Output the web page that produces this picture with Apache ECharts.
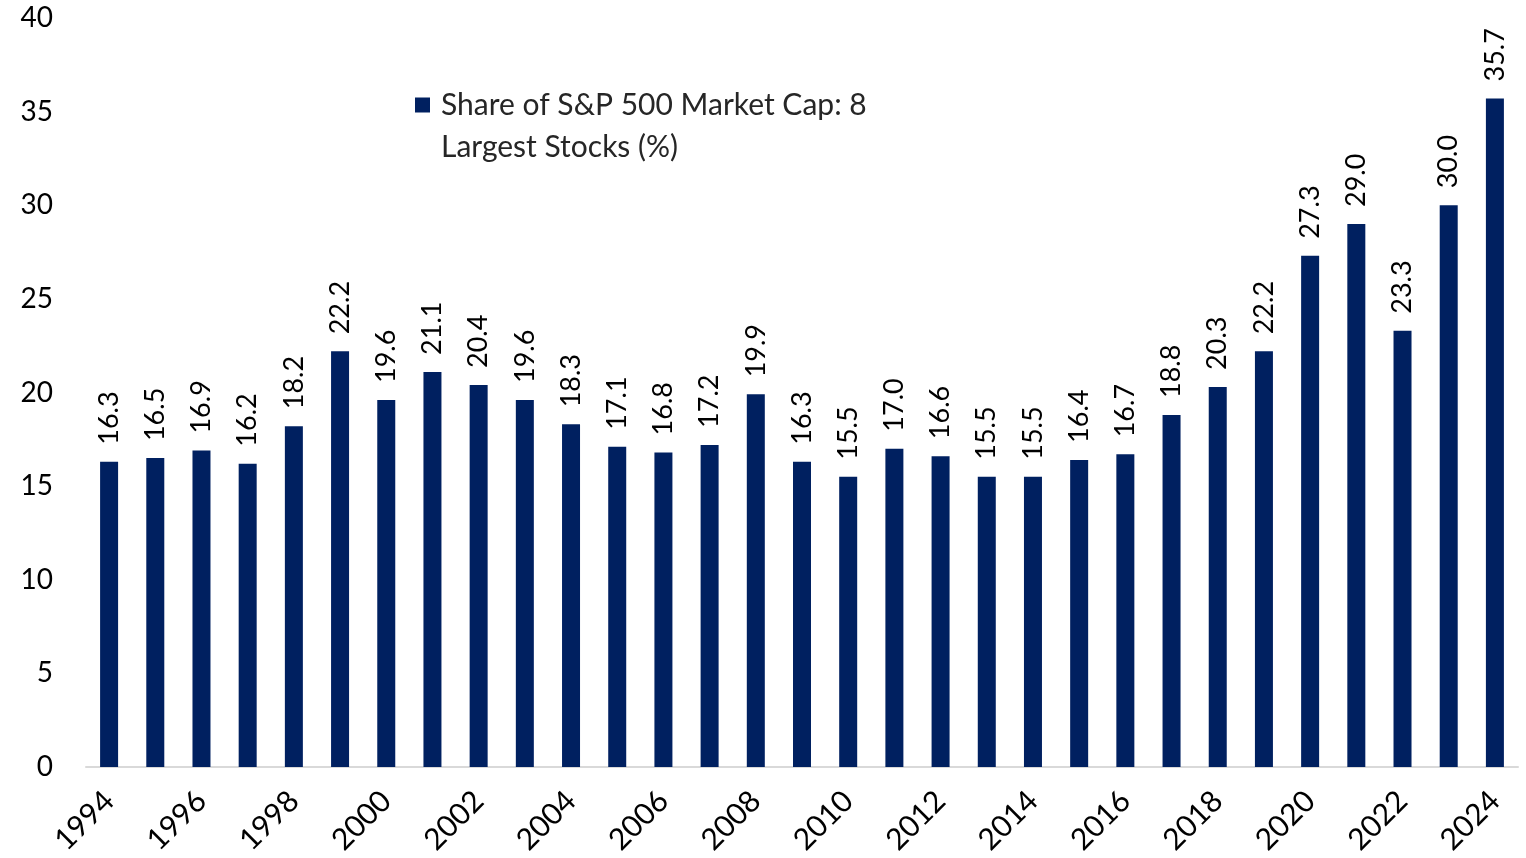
<!DOCTYPE html>
<html>
<head>
<meta charset="utf-8">
<script src="https://cdn.jsdelivr.net/npm/echarts@6/dist/echarts.min.js"></script>
<style>
  html, body { margin: 0; padding: 0; background: #fff; }
  #chart { width: 1526px; height: 858px; }
</style>
</head>
<body>
<div id="chart"></div>
<script>
// data
var years = ['1994', '1995', '1996', '1997', '1998', '1999', '2000', '2001', '2002', '2003',
  '2004', '2005', '2006', '2007', '2008', '2009', '2010', '2011', '2012', '2013',
  '2014', '2015', '2016', '2017', '2018', '2019', '2020', '2021', '2022', '2023', '2024'];
var share = [16.3, 16.5, 16.9, 16.2, 18.2, 22.2, 19.6, 21.1, 20.4, 19.6,
  18.3, 17.1, 16.8, 17.2, 19.9, 16.3, 15.5, 17.0, 16.6, 15.5,
  15.5, 16.4, 16.7, 18.8, 20.3, 22.2, 27.3, 29.0, 23.3, 30.0, 35.7];
var seriesName = 'Share of S&P 500 Market Cap: 8';
var seriesName2 = 'Largest Stocks (%)'; // legend text wraps onto a second line

var font = 'Lato, "Open Sans", sans-serif';
var chart = echarts.init(document.getElementById('chart'));

chart.setOption({
  animation: false,
  textStyle: { fontFamily: font },
  grid: { left: 86, right: 8, top: 18, bottom: 91, containLabel: false },
  legend: {
    left: 415,
    top: 84,
    padding: 0,
    itemWidth: 15,
    itemHeight: 15,
    itemGap: 0,
    icon: 'rect',
    data: [seriesName],
    textStyle: {
      fontSize: 30,
      color: '#262626',
      lineHeight: 42,
      padding: [0, 0, 0, 6]
    }
  },
  graphic: [{
    type: 'text',
    left: 441,
    top: 147 - 21,
    style: {
      text: seriesName2,
      font: '30px ' + font,
      fill: '#262626',
      lineHeight: 42
    }
  }],
  xAxis: {
    type: 'category',
    data: years,
    axisLine: { lineStyle: { color: '#d9d9d9', width: 2 } },
    axisTick: { interval: 1, length: 7, lineStyle: { color: '#d9d9d9', width: 2 } },
    axisLabel: {
      interval: 1,
      rotate: 45,
      margin: 29,
      fontSize: 30,
      color: '#000'
    }
  },
  yAxis: {
    type: 'value',
    min: 0,
    max: 40,
    interval: 5,
    axisLine: { show: false },
    axisTick: { show: false },
    splitLine: { show: false },
    axisLabel: { fontSize: 28, color: '#000', margin: 33 }
  },
  series: [{
    name: seriesName,
    type: 'bar',
    data: share,
    barWidth: 18,
    itemStyle: { color: '#002060' },
    label: {
      show: true,
      position: 'top',
      rotate: 90,
      align: 'left',
      verticalAlign: 'middle',
      distance: 17,
      fontSize: 27,
      color: '#000',
      formatter: function (p) {
        return p.value.toFixed(1)
      }
    }
  }]
});
</script>
</body>
</html>
